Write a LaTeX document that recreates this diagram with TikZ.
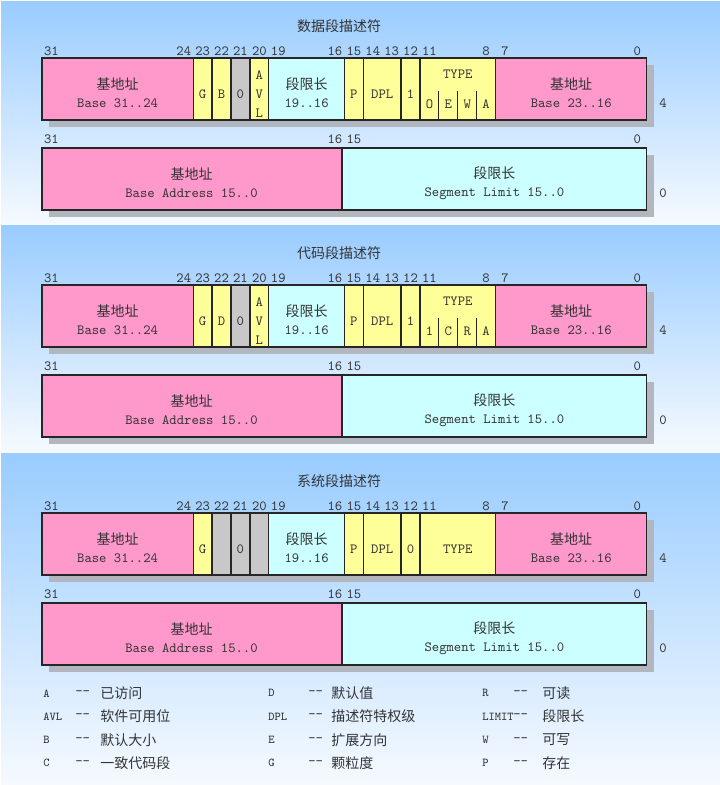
\documentclass[tikz,border=0pt]{standalone}
\usepackage{fontspec}
\usepackage{xcolor}
\usepackage{tikz}

\newfontfamily\cjk{Noto Sans CJK SC}
\newcommand{\zh}[1]{{\cjk #1}}

\definecolor{paneltop}{RGB}{153,204,255}
\definecolor{panelbot}{RGB}{246,250,255}
\definecolor{basepink}{RGB}{255,153,204}
\definecolor{flagyellow}{RGB}{255,255,153}
\definecolor{limitcyan}{RGB}{204,255,255}
\definecolor{zerogray}{RGB}{200,200,200}
\definecolor{shadowgray}{RGB}{178,182,190}

\tikzset{
  cell/.style={draw=black!85, line width=1pt},
  txt/.style={font=\ttfamily\fontsize{10.5}{13.5}\selectfont, inner sep=0pt, align=center, text=black!80},
  key/.style={font=\ttfamily\fontsize{9}{10}\selectfont, inner sep=0pt, anchor=west, text=black!80},
  desc/.style={font=\cjk\fontsize{10.5}{13}\selectfont, inner sep=0pt, anchor=west, text=black!80},
}

\begin{document}
\begin{tikzpicture}[x=0.75pt, y=-0.75pt]
    \useasboundingbox (0,0) rectangle (720,785);

    % Three panels, light blue fading to white
    \foreach \a/\b in {1/225, 225/453, 453/785}
        \shade[top color=paneltop, bottom color=panelbot] (1,\a) rectangle (720,\b);

    % Parts that all three descriptors share
    \foreach \r/\off/\ttl/\fb/\s in {1/0/数据段描述符/flagyellow/1, 2/227/代码段描述符/flagyellow/1, 3/455/系统段描述符/zerogray/0} {
    \begin{scope}[shift={(0,\off)}]
        \node[txt, font=\cjk\fontsize{10.5}{13}\selectfont] (title\r) at (339,26) {\ttl};

        % Shadows
        \fill[shadowgray] (49,65) rectangle (653.5,127);
        \fill[shadowgray] (49,155) rectangle (653.5,217);

        % High dword (offset 4)
        \filldraw[cell, fill=basepink] (42,58) rectangle (193.2,120);
        \filldraw[cell, fill=flagyellow] (193.2,58) rectangle (212.1,120);
        \filldraw[cell, fill=\fb] (212.1,58) rectangle (231,120);
        \filldraw[cell, fill=zerogray] (231,58) rectangle (249.9,120);
        \filldraw[cell, fill=\fb] (249.9,58) rectangle (268.8,120);
        \filldraw[cell, fill=limitcyan] (268.8,58) rectangle (344.4,120);
        \filldraw[cell, fill=flagyellow] (344.4,58) rectangle (363.3,120);
        \filldraw[cell, fill=flagyellow] (363.3,58) rectangle (401.1,120);
        \filldraw[cell, fill=flagyellow] (401.1,58) rectangle (420,120);
        \filldraw[cell, fill=flagyellow] (420,58) rectangle (495.6,120);
        \filldraw[cell, fill=basepink] (495.6,58) rectangle (646.8,120);

        % Low dword (offset 0)
        \filldraw[cell, fill=basepink] (42,148) rectangle (342,210);
        \filldraw[cell, fill=limitcyan] (342,148) rectangle (646.8,210);

        % Bit numbers
        \foreach \b in {31,24,23,22,21,20,19,16,15,14,13,12,11,8,7,0}
            \node[txt] (hi\r-\b) at ({42+(31.5-\b)*18.9},51) {\b};
        \foreach \b in {31,16,15,0}
            \node[txt] (lo\r-\b) at ({42+(31.5-\b)*18.9},139) {\b};

        \node[txt] (basehi\r) at (117.6,93) {\zh{基地址}\\Base 31..24};
        \node[txt] (gran\r) at (202.6,94) {G};
        \node[txt] (zero\r) at (240.4,94) {0};
        \node[txt] (limhi\r) at (306.6,93) {\zh{段限长}\\19..16};
        \node[txt] (pres\r) at (353.9,94) {P};
        \node[txt] (dpl\r) at (382.2,94) {DPL};
        \node[txt] (sbit\r) at (410.5,94) {\s};
        \node[txt] (basemid\r) at (571.2,93) {\zh{基地址}\\Base 23..16};
        \node[txt] (addr\r) at (191.5,183) {\zh{基地址}\\Base Address 15..0};
        \node[txt] (seglim\r) at (494.4,183) {\zh{段限长}\\Segment Limit 15..0};

        % Byte offsets
        \node[txt] (off4-\r) at (663,103) {4};
        \node[txt] (off0-\r) at (663,193) {0};
    \end{scope}
    }

    % Data and code segments: D/B, AVL and the TYPE bits
    \foreach \r/\off/\bl/\ta/\tb/\tc/\td in {1/0/B/O/E/W/A, 2/227/D/1/C/R/A} {
    \begin{scope}[shift={(0,\off)}]
        \node[txt] (db\r) at (221.5,94) {\bl};
        \node[txt, font=\ttfamily\fontsize{10.5}{14.25}\selectfont] (avl\r) at (259.4,94) {A\\V\\L};
        \node[txt] (type\r) at (457.8,74) {TYPE};
        \foreach \x in {438.9,457.8,476.7}
            \draw[black!85, line width=0.8pt] (\x,91) -- (\x,120);
        \foreach \l [count=\j] in {\ta,\tb,\tc,\td}
            \node[txt] (type\r-\j) at ({420+(\j-0.5)*18.9},104) {\l};
    \end{scope}
    }

    % System segment: plain TYPE field
    \node[txt] (type3) at (457.8,549) {TYPE};

    % Legend
    \foreach \k/\t [count=\i] in {A/已访问, AVL/软件可用位, B/默认大小, C/一致代码段} {
        \node[key] (keyA\i) at (43,{670+23.3*\i}) {\k};
        \node[txt, anchor=west] (dashA\i) at (75,{670+23.3*\i}) {-\kern0pt-};
        \node[desc] (descA\i) at (100,{670+23.3*\i}) {\t};
    }
    \foreach \k/\t [count=\i] in {D/默认值, DPL/描述符特权级, E/扩展方向, G/颗粒度} {
        \node[key] (keyB\i) at (268,{670+23.3*\i}) {\k};
        \node[txt, anchor=west] (dashB\i) at (308,{670+23.3*\i}) {-\kern0pt-};
        \node[desc] (descB\i) at (331,{670+23.3*\i}) {\t};
    }
    \foreach \k/\t [count=\i] in {R/可读, LIMIT/段限长, W/可写, P/存在} {
        \node[key] (keyC\i) at (482,{670+23.3*\i}) {\k};
        \node[txt, anchor=west] (dashC\i) at (513,{670+23.3*\i}) {-\kern0pt-};
        \node[desc] (descC\i) at (542,{670+23.3*\i}) {\t};
    }
\end{tikzpicture}
\end{document}
